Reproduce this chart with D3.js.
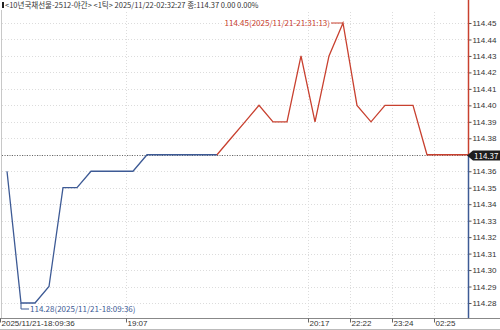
<!DOCTYPE html>
<html>
<head>
<meta charset="utf-8">
<script src="https://cdn.jsdelivr.net/npm/d3@7"></script>
<style>
  body { margin: 0; background: #fff; }
  svg { display: block; font-family: "Liberation Sans Narrow", "Noto Sans CJK KR", sans-serif; }
</style>
</head>
<body>
<div id="chart"></div>
<script>
//---- size of the picture ----//
var width = 500
var height = 330

//---- data ----//
var prices = [114.36, 114.28, 114.28, 114.29, 114.35, 114.35, 114.36, 114.36, 114.36, 114.36,
              114.37, 114.37, 114.37, 114.37, 114.37, 114.37, 114.38, 114.39, 114.40, 114.39,
              114.39, 114.43, 114.39, 114.43, 114.45, 114.40, 114.39, 114.40, 114.40, 114.40,
              114.37, 114.37, 114.37, 114.37];
var splitAt = 15;          // blue up to here, red after
var timeTicks = [0, 9, 22, 25, 28, 31];
var timeLabels = ['2025/11/21-18:09:36', '19:07', '20:17', '22:22', '23:24', '02:25'];
var priceTicks = [114.28, 114.29, 114.30, 114.31, 114.32, 114.33, 114.34, 114.35, 114.36,
                  114.37, 114.38, 114.39, 114.40, 114.41, 114.42, 114.43, 114.44, 114.45];
var lastPrice = 114.37;
var highNote = '114.45(2025/11/21-21:31:13)';
var lowNote = '114.28(2025/11/21-18:09:36)';
var title = '<10년국채선물-2512-야간> <1틱> 2025/11/22-02:32:27 종:114.37 0.00 0.00%';

var blue = '#3d5a95';
var red = '#c8402f';
var axisX = 468;
var bottom = 318;

//---- svg ----//
var svg = d3.select('#chart').append('svg')
            .attr('width', width)
            .attr('height', height);

//---- scales ----//
var x = d3.scaleBand()
          .domain(d3.range(prices.length))
          .range([0, 14 * prices.length])
          .padding(0);
var cx = function(i){ return x(i) + x.bandwidth() / 2; };
var y = d3.scaleLinear()
          .domain([114.28, 114.45])
          .range([303, 23]);

svg.append('clipPath').attr('id', 'plot')
   .append('rect').attr('x', 0).attr('y', 0).attr('width', axisX).attr('height', bottom);

//---- grid ----//
svg.append('g').selectAll('line.hg')
   .data(priceTicks).enter().append('line')
   .attr('x1', 2).attr('x2', axisX)
   .attr('y1', function(d){ return Math.round(y(d)) + 0.5; })
   .attr('y2', function(d){ return Math.round(y(d)) + 0.5; })
   .style('stroke', '#dcdcdc').style('stroke-dasharray', '1,2');

svg.append('g').selectAll('line.vg')
   .data(timeTicks.slice(1)).enter().append('line')
   .attr('x1', function(d){ return x(d) + 0.5; })
   .attr('x2', function(d){ return x(d) + 0.5; })
   .attr('y1', 12).attr('y2', bottom)
   .style('stroke', '#dcdcdc').style('stroke-dasharray', '1,2');

// left border
svg.append('line').attr('x1', 1.5).attr('x2', 1.5).attr('y1', 10).attr('y2', bottom)
   .style('stroke', '#c8c8c8');

// last price dotted line
svg.append('line')
   .attr('x1', 2).attr('x2', axisX)
   .attr('y1', Math.round(y(lastPrice)) + 0.5).attr('y2', Math.round(y(lastPrice)) + 0.5)
   .style('stroke', '#666').style('stroke-dasharray', '1,1.5');

//---- price line ----//
var line = d3.line()
             .x(function(d){ return cx(d.i); })
             .y(function(d){ return y(d.v); });
var pts = prices.map(function(v, i){ return {i: i, v: v}; });

svg.append('path')
   .datum(pts.slice(0, splitAt + 1))
   .attr('d', line)
   .attr('clip-path', 'url(#plot)')
   .style('fill', 'none').style('stroke', blue).style('stroke-width', 1.3);

svg.append('path')
   .datum(pts.slice(splitAt))
   .attr('d', line)
   .attr('clip-path', 'url(#plot)')
   .style('fill', 'none').style('stroke', red).style('stroke-width', 1.3);

//---- high / low notes ----//
var hi = d3.maxIndex(prices);
var lo = d3.minIndex(prices);

svg.append('line')
   .attr('x1', cx(hi) - 12).attr('x2', cx(hi))
   .attr('y1', y(prices[hi])).attr('y2', y(prices[hi]))
   .style('stroke', red);
svg.append('text')
   .attr('x', cx(hi) - 13).attr('y', y(prices[hi]) + 3)
   .attr('text-anchor', 'end')
   .style('font-size', '8px').style('fill', red)
   .text(highNote);

svg.append('path')
   .attr('d', 'M' + cx(lo) + ',' + y(prices[lo]) + 'V' + (y(prices[lo]) + 6) + 'H' + (cx(lo) + 8))
   .style('fill', 'none').style('stroke', blue);
svg.append('text')
   .attr('x', cx(lo) + 9).attr('y', y(prices[lo]) + 9)
   .style('font-size', '8px').style('fill', blue)
   .text(lowNote);

//---- right axis ----//
var yAxis = d3.axisRight(y)
              .tickValues(priceTicks.filter(function(d){ return d !== lastPrice; }))
              .tickSize(3)
              .tickFormat(d3.format('.2f'));
var ga = svg.append('g').attr('transform', 'translate(' + (axisX + 0.5) + ',0)').call(yAxis);
ga.select('.domain').remove();
ga.selectAll('.tick line').style('stroke', '#555');
ga.selectAll('.tick text').attr('x', 4)
  .style('font-size', '8px').style('fill', '#333')
  .style('font-family', '"Liberation Sans Narrow", sans-serif');

svg.append('line').attr('x1', axisX + 0.5).attr('x2', axisX + 0.5)
   .attr('y1', 0).attr('y2', y(lastPrice))
   .style('stroke', red).style('stroke-width', 1.5);
svg.append('line').attr('x1', axisX + 0.5).attr('x2', axisX + 0.5)
   .attr('y1', y(lastPrice)).attr('y2', bottom)
   .style('stroke', blue).style('stroke-width', 1.5);

// last price box
var ly = Math.round(y(lastPrice)) + 0.5;
svg.append('path')
   .attr('d', 'M' + (axisX - 1) + ',' + ly + 'L' + (axisX + 5) + ',' + (ly - 5) + 'H' + width +
              'V' + (ly + 5) + 'H' + (axisX + 5) + 'Z')
   .style('fill', '#1e1e1e');
svg.append('text')
   .attr('x', axisX + 6).attr('y', ly + 3)
   .style('font-size', '8px').style('fill', '#fff')
   .text(d3.format('.2f')(lastPrice));

//---- bottom axis ----//
svg.append('line').attr('x1', 0).attr('x2', width).attr('y1', bottom + 0.5).attr('y2', bottom + 0.5)
   .style('stroke', '#888');
svg.append('line').attr('x1', 0).attr('x2', width).attr('y1', height - 0.5).attr('y2', height - 0.5)
   .style('stroke', '#bbb');

var xAxis = d3.axisBottom(x)
              .tickValues(timeTicks)
              .tickSize(4)
              .tickFormat(function(d, i){ return timeLabels[i]; });
var gx = svg.append('g').attr('transform', 'translate(' + (-x.bandwidth() / 2 + 0.5) + ',' + (bottom + 0.5) + ')').call(xAxis);
gx.select('.domain').remove();
gx.selectAll('.tick line').style('stroke', '#666');
gx.selectAll('.tick text').attr('y', 2).attr('dy', '0.71em').attr('x', 1)
  .attr('text-anchor', 'start')
  .style('font-size', '8px').style('fill', '#333')
  .style('font-family', '"Liberation Sans Narrow", sans-serif');

//---- header ----//
svg.append('rect').attr('x', 2).attr('y', 2).attr('width', 2).attr('height', 6).style('fill', '#222');
svg.append('text')
   .attr('x', 5).attr('y', 8)
   .style('font-size', '7.5px').style('fill', '#333')
   .style('font-family', '"Liberation Sans Narrow", "Noto Sans CJK KR", sans-serif')
   .text(title);
</script>
</body>
</html>
